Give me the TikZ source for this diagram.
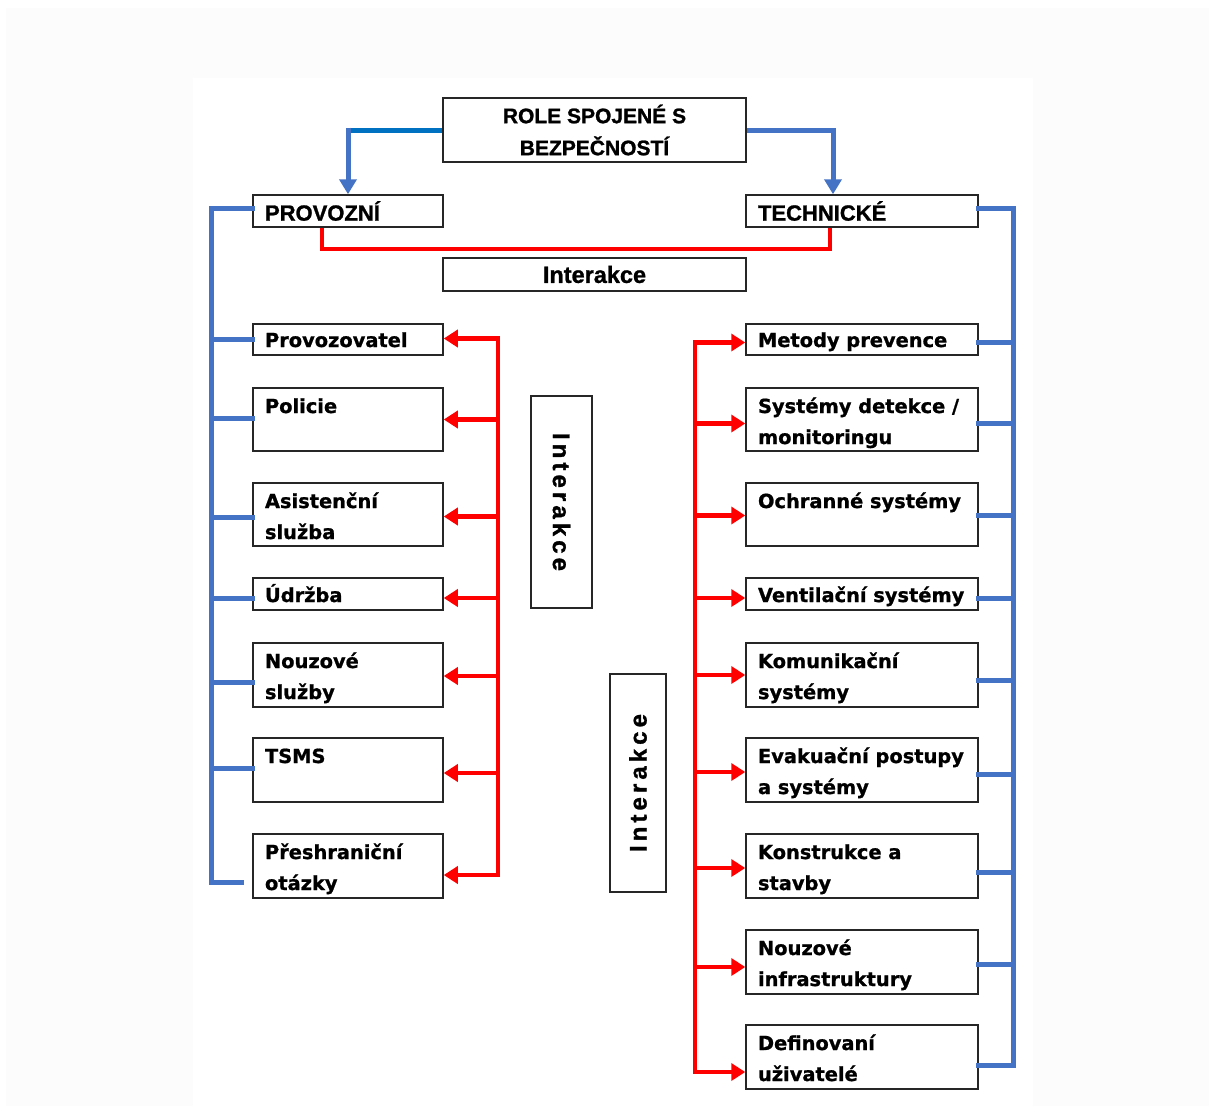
\documentclass[tikz,border=0pt]{standalone}
\usepackage{fontspec}
\newfontfamily\itemfont{DejaVu Sans}[BoldFeatures={FakeBold=1}]
\newfontfamily\headfont{Liberation Sans}[BoldFeatures={FakeBold=1.2}]
\newfontfamily\vertfont{Liberation Sans}[LetterSpace=17,BoldFeatures={FakeBold=1.2,LetterSpace=17}]
\usetikzlibrary{arrows.meta,calc}
\definecolor{linkblue}{RGB}{68,114,196}
\definecolor{darkblue}{RGB}{0,112,192}
\definecolor{linkred}{RGB}{255,0,0}
\definecolor{pagegray}{RGB}{252,252,252}
% item text: box height, text width, first baseline from top, text
\newcommand\itmbox[4]{\parbox[c][#1pt][t]{#2pt}{\raggedright\rule{0pt}{#3pt}#4}}
\begin{document}
\begin{tikzpicture}[x=1pt,y=-1pt,
  box/.style={draw=black!85, line width=1.5pt, fill=white, inner sep=0pt},
  itemtxt/.style={font=\itemfont\bfseries\fontsize{19.4}{31}\selectfont},
  item/.style={box, itemtxt, inner xsep=12pt, inner ysep=0pt},
  headtxt/.style={font=\headfont\bfseries\fontsize{21}{32}\selectfont},
  vtxt/.style={font=\vertfont\bfseries\fontsize{24}{28}\selectfont},
  blueline/.style={draw=linkblue, line width=5pt, line cap=rect},
  bluearrow/.style={draw=linkblue, line width=5pt, -{Triangle[length=15pt,width=17pt]}},
  redline/.style={draw=linkred, line width=4.5pt, line cap=rect},
  redarrow/.style={draw=linkred, line width=4.5pt, -{Triangle[length=14pt,width=17pt]}},
]
% page
\useasboundingbox (0,0) rectangle (1209,1106);
\fill[white] (0,0) rectangle (1209,1106);
\fill[pagegray] (6,8) rectangle (1209,1106);
\fill[white] (193,78) rectangle (1033,1106);

% heads
\node[box, headtxt, minimum width=303pt, minimum height=64pt, align=center] (top) at (594.5,130) {ROLE SPOJENÉ S\\BEZPEČNOSTÍ};
\node[box, font=\headfont\bfseries\fontsize{22}{26}\selectfont, text width=166pt, inner xsep=12pt, minimum height=32pt, align=left] (prov) at (348,211) {PROVOZNÍ};
\node[box, font=\headfont\bfseries\fontsize{22}{26}\selectfont, text width=208pt, inner xsep=12pt, minimum height=32pt, align=left] (tech) at (862,211) {TECHNICKÉ};
\node[box, font=\headfont\bfseries\fontsize{23.5}{26}\selectfont, minimum width=303pt, minimum height=33pt] (inter) at (594.5,274.5) {Interakce};

% left items
\node[item] (l1) at (348,339.5) {\itmbox{31}{166}{23}{Provozovatel}};
\node[item] (l2) at (348,419.5) {\itmbox{63}{166}{25}{Policie}};
\node[item] (l3) at (348,514.5) {\itmbox{63}{166}{25}{Asistenční\\služba}};
\node[item] (l4) at (348,594) {\itmbox{32}{166}{24}{Údržba}};
\node[item] (l5) at (348,675) {\itmbox{64}{166}{25}{Nouzové\\služby}};
\node[item] (l6) at (348,770) {\itmbox{64}{166}{25}{TSMS}};
\node[item] (l7) at (348,866) {\itmbox{64}{166}{25}{Přeshraniční\\otázky}};

% right items
\node[item] (r1) at (862,339.5) {\itmbox{31}{208}{23}{Metody prevence}};
\node[item] (r2) at (862,419.5) {\itmbox{63}{208}{25}{Systémy detekce /\\monitoringu}};
\node[item] (r3) at (862,514.5) {\itmbox{63}{208}{25}{Ochranné systémy}};
\node[item] (r4) at (862,594) {\itmbox{32}{208}{24}{Ventilační systémy}};
\node[item] (r5) at (862,675) {\itmbox{64}{208}{25}{Komunikační\\systémy}};
\node[item] (r6) at (862,770) {\itmbox{64}{208}{25}{Evakuační postupy\\a systémy}};
\node[item] (r7) at (862,866) {\itmbox{64}{208}{25}{Konstrukce a\\stavby}};
\node[item] (r8) at (862,962) {\itmbox{64}{208}{25}{Nouzové\\infrastruktury}};
\node[item] (r9) at (862,1057) {\itmbox{64}{208}{25}{Definovaní\\uživatelé}};

% vertical interakce boxes
\node[box, vtxt, rotate=-90, minimum width=212pt, minimum height=61pt] (v1) at (561.5,502) {Interakce};
\node[box, vtxt, rotate=90, minimum width=218pt, minimum height=56pt] (v2) at (638,783) {Interakce};

% bus coordinates
\coordinate (lb) at (211,0);
\coordinate (lr) at (498,0);
\coordinate (rr) at (695,0);
\coordinate (rb) at (1013,0);

% top connectors
\draw[draw=darkblue, line width=5pt] (top.west) -- (top.west -| prov.north);
\draw[bluearrow] ($(top.west -| prov.north)+(0,-2.5)$) -- (prov.north);
\coordinate (techin) at ($(tech.north)+(-29,0)$);
\draw[bluearrow] (top.east) -| (techin);

% provozni - technicke interaction
\draw[redline, line cap=butt] ($(prov.south)+(-26,0)$) -- ++(0,21) -| ($(tech.south)+(-32,0)$);

% left blue bus
\path ($(prov.west)+(0,-3)$) coordinate (lbtop);
\path ($(l7.west)+(-11,16)$) coordinate (lbend);
\draw[blueline] (lbtop) -- (lbtop -| lb) -- (lbend -| lb) -- (lbend);
\foreach \n/\d in {l1/0,l2/-1,l3/3,l4/4,l5/7,l6/-2} {
  \path ($(\n.west)+(0,\d)$) coordinate (p);
  \draw[blueline] (p) -- (p -| lb);
}

% left red bus
\path ($(l1.east)+(0,-1)$) coordinate (lrtop);
\path ($(l7.east)+(0,9)$) coordinate (lrbot);
\draw[redline] (lrtop -| lr) -- (lrbot -| lr);
\foreach \n/\d in {l1/-1,l2/0,l3/2,l4/4,l5/1,l6/3,l7/9} {
  \path ($(\n.east)+(0,\d)$) coordinate (p);
  \draw[redarrow] (p -| lr) -- (p);
}

% right red bus
\path ($(r1.west)+(0,3)$) coordinate (rrtop);
\path ($(r9.west)+(0,15)$) coordinate (rrbot);
\draw[redline] (rrtop -| rr) -- (rrbot -| rr);
\foreach \n/\d in {r1/3,r2/4,r3/1,r4/4,r5/0,r6/2,r7/2,r8/5,r9/15} {
  \path ($(\n.west)+(0,\d)$) coordinate (p);
  \draw[redarrow] (p -| rr) -- (p);
}

% right blue bus
\path ($(tech.east)+(0,-3)$) coordinate (rbtop);
\path ($(r9.east)+(0,8)$) coordinate (rbbot);
\draw[blueline] (rbtop) -- (rbtop -| rb) -- (rbbot -| rb) -- (rbbot);
\foreach \n/\d in {r1/3,r2/4,r3/1,r4/4,r5/5,r6/4,r7/6,r8/2} {
  \path ($(\n.east)+(0,\d)$) coordinate (p);
  \draw[blueline] (p) -- (p -| rb);
}
\end{tikzpicture}
\end{document}
